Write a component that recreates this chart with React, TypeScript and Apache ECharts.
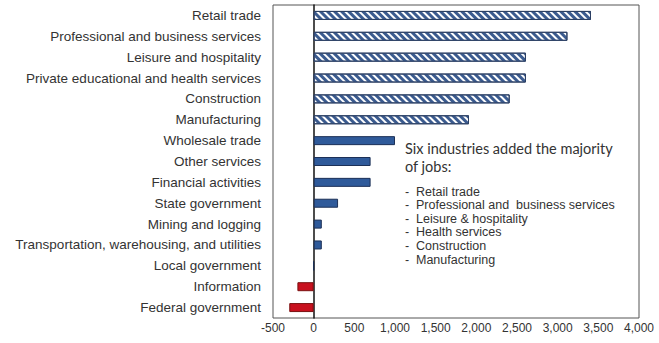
import React, { useEffect, useRef } from "react";
import * as echarts from "echarts";

const categories = [
  "Retail trade",
  "Professional and business services",
  "Leisure and hospitality",
  "Private educational and health services",
  "Construction",
  "Manufacturing",
  "Wholesale trade",
  "Other services",
  "Financial activities",
  "State government",
  "Mining and logging",
  "Transportation, warehousing, and utilities",
  "Local government",
  "Information",
  "Federal government",
];
const values = [3410, 3120, 2610, 2610, 2410, 1910, 1000, 700, 700, 300, 100, 100, 0, -200, -300];
const hatchedCount = 6;
const xTicks = { min: -500, max: 4000, interval: 500 };
const noteTitle = ["Six industries added the majority", "of jobs:"];
const noteItems = [
  "Retail trade",
  "Professional and  business services",
  "Leisure & hospitality",
  "Health services",
  "Construction",
  "Manufacturing",
];

export default function App() {
  const ref = useRef<HTMLDivElement>(null);
  useEffect(() => {
    if (!ref.current) return;
    const chart = echarts.init(ref.current, undefined, { renderer: "svg" });
    const data = values.map((v, i) => {
      if (i < hatchedCount) {
        return {
          value: v,
          itemStyle: {
            color: "#ffffff",
            borderColor: "#2b3f63",
            borderWidth: 1,
            decal: {
              symbol: "rect",
              color: "#3b5b8f",
              backgroundColor: "#dfe6f0",
              dashArrayX: [1, 0],
              dashArrayY: [2.5, 2],
              rotation: Math.PI / 4,
              symbolSize: 1,
            },
          },
        };
      }
      if (v < 0) {
        return { value: v, itemStyle: { color: "#c8101e", borderColor: "#7a1010", borderWidth: 1 } };
      }
      return { value: v, itemStyle: { color: "#2f5a9a", borderColor: "#1c3057", borderWidth: 1 } };
    });
    const graphics: any[] = [];
    noteTitle.forEach((t, i) => {
      graphics.push({
        type: "text",
        left: 405,
        top: 141 + i * 18,
        style: { text: t, font: "14.5px Lato", fill: "#333" },
      });
    });
    noteItems.forEach((t, i) => {
      graphics.push({
        type: "text",
        left: 405,
        top: 185 + i * 13.6,
        style: { text: "-", font: "12.5px 'Liberation Sans'", fill: "#333" },
      });
      graphics.push({
        type: "text",
        left: 416,
        top: 185 + i * 13.6,
        style: { text: t, font: "12.5px 'Liberation Sans'", fill: "#333" },
      });
    });
    chart.setOption({
      animation: false,
      grid: {
        left: 273,
        right: 20,
        top: 5,
        bottom: 25,
        show: true,
        borderColor: "#555",
        borderWidth: 1,
        backgroundColor: "transparent",
      },
      xAxis: {
        type: "value",
        min: xTicks.min,
        max: xTicks.max,
        interval: xTicks.interval,
        splitLine: { show: false },
        axisLine: { show: false },
        axisTick: { show: false },
        axisLabel: {
          color: "#333",
          fontFamily: "Liberation Sans",
          fontSize: 12,
          margin: 4,
          formatter: (v: number) => v.toLocaleString("en-US"),
        },
      },
      yAxis: {
        type: "category",
        data: categories,
        inverse: true,
        axisLine: { show: true, onZero: true, lineStyle: { color: "#111", width: 1.5 } },
        axisTick: { show: false },
        axisLabel: {
          color: "#333",
          fontFamily: "Liberation Sans",
          fontSize: 13.5,
          margin: 12,
        },
      },
      series: [
        {
          type: "bar",
          data,
          barWidth: 9,
        },
      ],
      graphic: graphics,
    });
    return () => chart.dispose();
  }, []);
  return <div ref={ref} style={{ width: 659, height: 343, position: "absolute", left: 0, top: 0, background: "#fff" }} />;
}
